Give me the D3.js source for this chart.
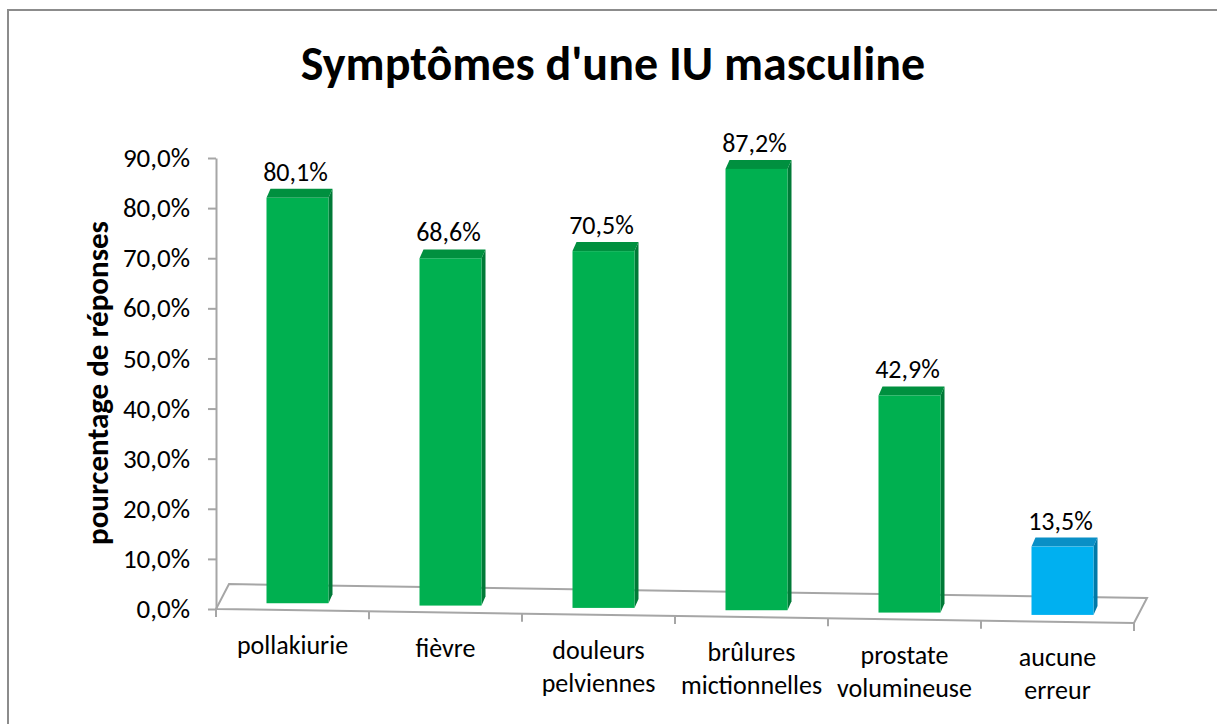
<!DOCTYPE html>
<html>
<head>
<meta charset="utf-8">
<script src="https://cdn.jsdelivr.net/npm/d3@7"></script>
<style>
  body { margin: 0; background: #fff; }
  text { font-family: Carlito, Calibri, Lato, sans-serif; fill: #000; }
</style>
</head>
<body>
<div id="chart"></div>
<script>
// chart data
var categories = ["pollakiurie", "fièvre", "douleurs pelviennes", "brûlures mictionnelles", "prostate volumineuse", "aucune erreur"];
var values = [80.1, 68.6, 70.5, 87.2, 42.9, 13.5];
var yTicks = [0, 10, 20, 30, 40, 50, 60, 70, 80, 90];

var svgWidth = 1217;
var svgHeight = 724;

var svg = d3.select("#chart")
  .append("svg")
  .attr("width", svgWidth)
  .attr("height", svgHeight);

// outer frame (only top / left visible)
svg.append("path")
  .attr("d", "M8,724 L8,10 L1217,10")
  .attr("fill", "none")
  .attr("stroke", "#8c8c8c")
  .attr("stroke-width", 2);

// scales
var x = d3.scaleBand()
  .domain(categories)
  .range([216, 1134]);

var y = d3.scaleLinear()
  .domain([0, 90])
  .range([609, 158]);

// the floor's front edge is slightly tilted
var frontY = d3.scaleLinear()
  .domain([216, 1134])
  .range([609, 623]);

var depth = { dx: 13, dy: -25 };   // floor depth offset
var barDepth = { dx: 4, dy: -9 };  // bar depth offset

// floor
var floorPts = [
  [216, frontY(216)],
  [1134, frontY(1134)],
  [1134 + depth.dx, frontY(1134) + depth.dy],
  [216 + depth.dx, frontY(216) + depth.dy]
];
svg.append("polygon")
  .attr("points", floorPts.map(p => p.join(",")).join(" "))
  .attr("fill", "none")
  .attr("stroke", "#a6a6a6")
  .attr("stroke-width", 2);

// category ticks along the front edge
var bounds = categories.map(c => x(c)).concat([x.range()[1]]);
svg.append("g")
  .selectAll("line")
  .data(bounds)
  .enter()
  .append("line")
  .attr("x1", d => d)
  .attr("x2", d => d)
  .attr("y1", d => frontY(d))
  .attr("y2", d => frontY(d) + 8)
  .attr("stroke", "#a6a6a6")
  .attr("stroke-width", 2);

// y axis
var leftAxis = d3.axisLeft(y)
  .tickValues(yTicks)
  .tickSize(8)
  .tickSizeOuter(0)
  .tickPadding(18)
  .tickFormat(d => d.toFixed(1).replace(".", ",") + "%");

var yAxis = svg.append("g")
  .attr("transform", "translate(216,0)")
  .call(leftAxis);
yAxis.select(".domain").attr("stroke", "#a6a6a6").attr("stroke-width", 2);
yAxis.selectAll(".tick line").attr("stroke", "#a6a6a6").attr("stroke-width", 2);
yAxis.selectAll(".tick text")
  .attr("font-family", "Carlito, Calibri, Lato, sans-serif")
  .attr("font-size", 27)
  .attr("fill", "#000");

// bars (3D look: front, side and top faces)
var barW = 62;
var barScale = 1.01;
var bars = categories.map(function(c, i) {
  var cx = x(c) + x.bandwidth() / 2 + 5;
  var bottom = frontY(cx) - 7;
  var h = (y(0) - y(values[i])) * barScale;
  return { name: c, value: values[i], x0: cx - barW / 2, x1: cx + barW / 2, bottom: bottom, top: bottom - h, cx: cx };
});

function colorsFor(d) {
  if (d.name === "aucune erreur") return { front: "#00b0f0", side: "#0079a8", top: "#0a8fc6" };
  return { front: "#00b050", side: "#007a37", top: "#00903f" };
}

var barG = svg.append("g")
  .selectAll("g")
  .data(bars)
  .enter()
  .append("g");

barG.append("polygon")
  .attr("points", d => [
    [d.x1, d.top], [d.x1 + barDepth.dx, d.top + barDepth.dy],
    [d.x1 + barDepth.dx, d.bottom + barDepth.dy], [d.x1, d.bottom]
  ].map(p => p.join(",")).join(" "))
  .attr("fill", d => colorsFor(d).side);

barG.append("polygon")
  .attr("points", d => [
    [d.x0, d.top], [d.x1, d.top],
    [d.x1 + barDepth.dx, d.top + barDepth.dy], [d.x0 + barDepth.dx, d.top + barDepth.dy]
  ].map(p => p.join(",")).join(" "))
  .attr("fill", d => colorsFor(d).top);

barG.append("rect")
  .attr("x", d => d.x0)
  .attr("y", d => d.top)
  .attr("width", barW)
  .attr("height", d => d.bottom - d.top)
  .attr("fill", d => colorsFor(d).front);

// value labels
barG.append("text")
  .attr("x", d => d.cx - 2)
  .attr("y", d => d.top - 17)
  .attr("text-anchor", "middle")
  .attr("font-size", 26)
  .text(d => d.value.toFixed(1).replace(".", ",") + "%");

// category labels
var catG = svg.append("g")
  .selectAll("text")
  .data(categories)
  .enter()
  .append("text")
  .attr("text-anchor", "middle")
  .attr("font-size", 26)
  .attr("transform", function(d) {
    var cx = x(d) + x.bandwidth() / 2;
    return "translate(" + cx + "," + (frontY(cx) + 44) + ")";
  });

catG.selectAll("tspan")
  .data(d => d.split(" "))
  .enter()
  .append("tspan")
  .attr("x", 0)
  .attr("dy", (d, i) => i === 0 ? 0 : 33)
  .text(d => d);

// axis title
svg.append("text")
  .attr("transform", "translate(108,383) rotate(-90)")
  .attr("text-anchor", "middle")
  .attr("font-weight", "bold")
  .attr("font-size", 31)
  .text("pourcentage de réponses");

// chart title
svg.append("text")
  .attr("x", 613)
  .attr("y", 80)
  .attr("text-anchor", "middle")
  .attr("font-weight", "bold")
  .attr("font-size", 48)
  .text("Symptômes d'une IU masculine");
</script>
</body>
</html>
